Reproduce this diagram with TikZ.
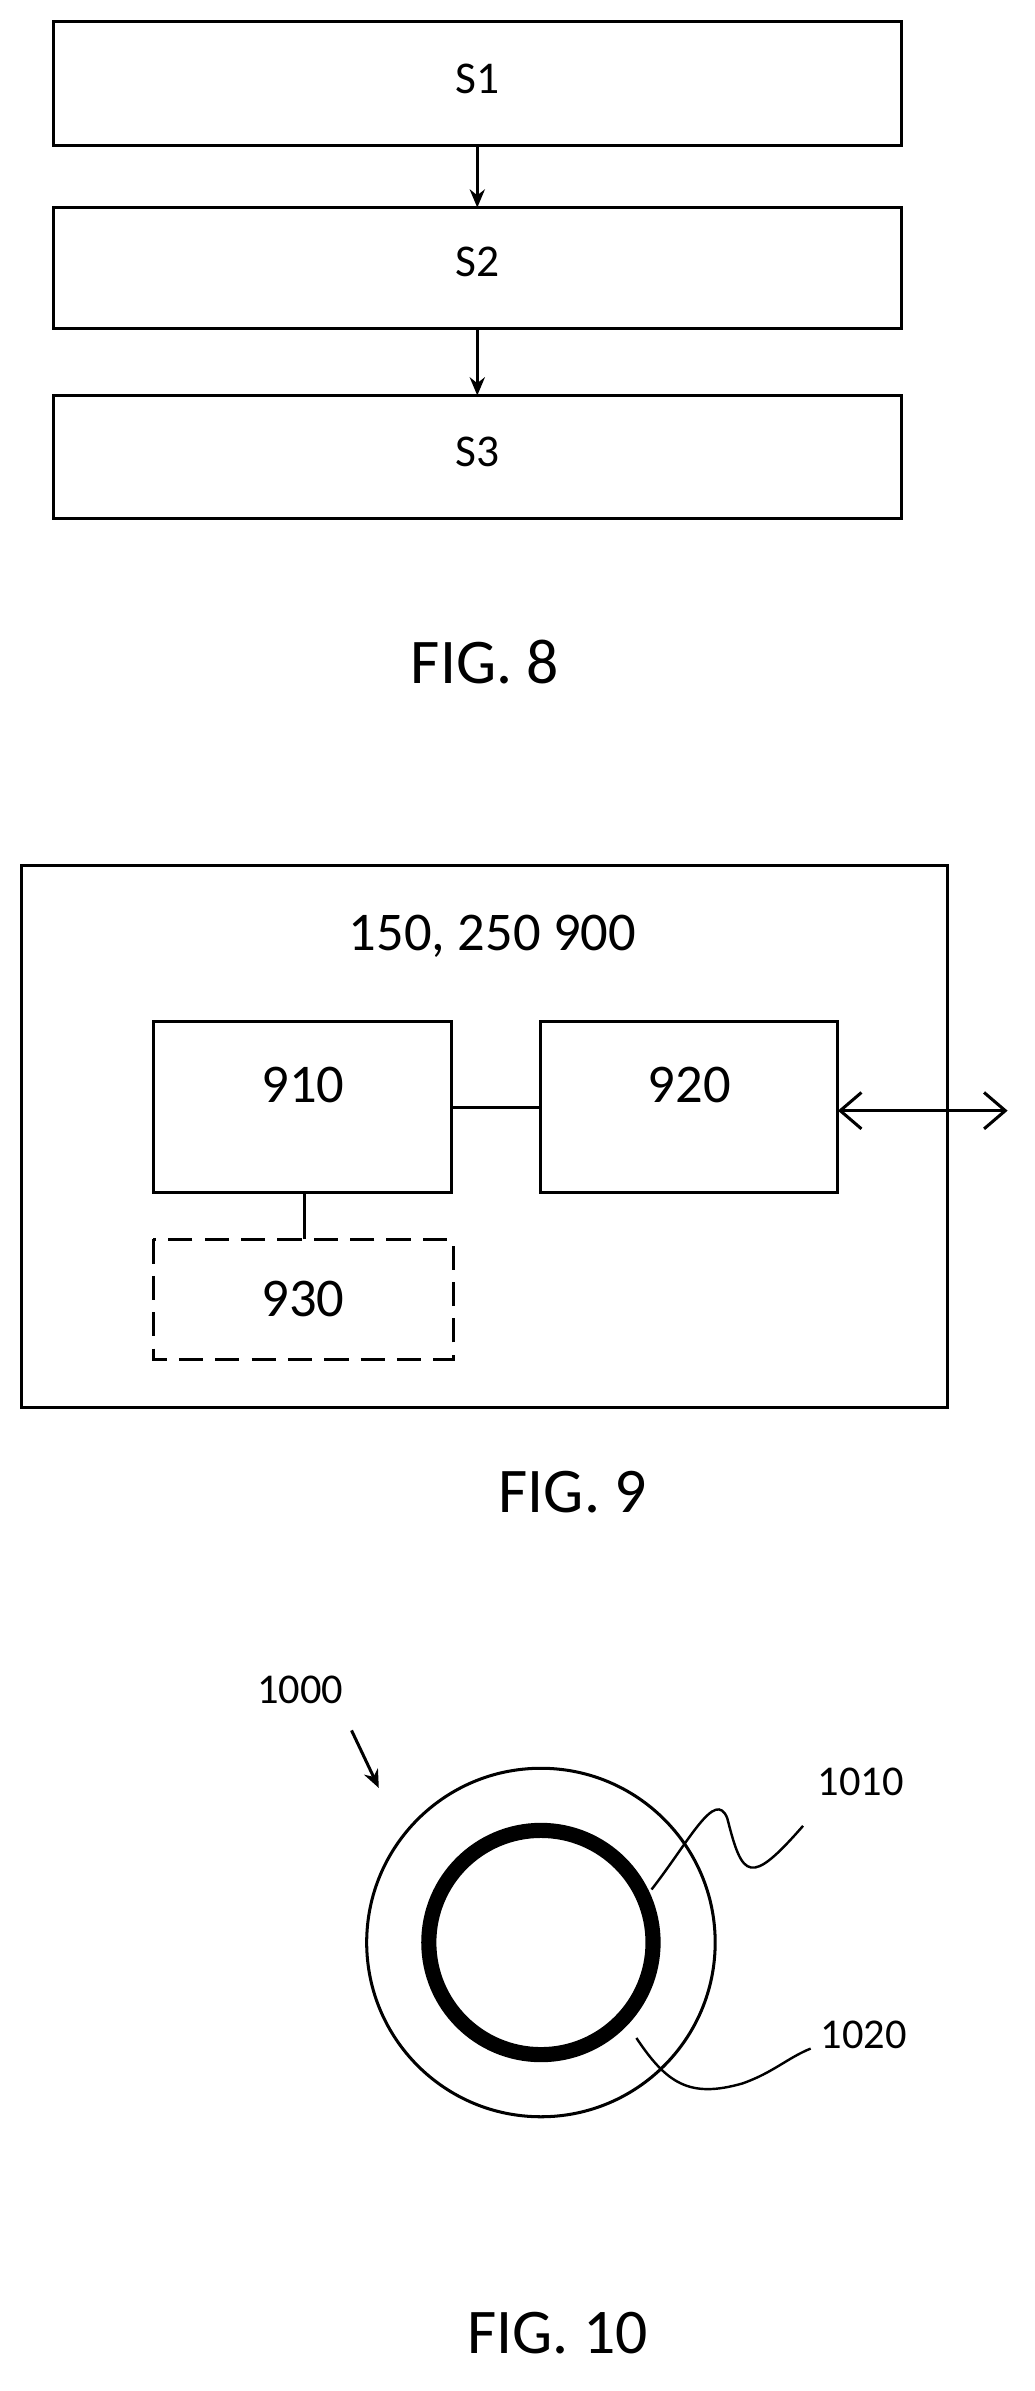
\documentclass[tikz,border=0pt]{standalone}
\usepackage{fontspec}
\setmainfont{Carlito}
\usetikzlibrary{arrows.meta}
\begin{document}
\begin{tikzpicture}[x=0.5pt,y=-0.5pt,
  box/.style={draw,line width=1pt,inner sep=0pt},
  lab/.style={font=\fontsize{15}{17}\selectfont},
  big/.style={font=\fontsize{18}{21}\selectfont},
  figcap/.style={font=\fontsize{21}{25}\selectfont},
  small/.style={font=\fontsize{14}{16}\selectfont},
  arr/.style={line width=1pt,-{Stealth[length=6pt,width=5pt]}}]
\useasboundingbox (0,0) rectangle (683,1578);
% FIG 8
\draw[box] (35,14) rectangle (595,96);
\draw[box] (35,137) rectangle (595,217);
\draw[box] (35,261) rectangle (595,342);
\node[lab] (s1) at (315,52) {S1};
\node[lab] (s2) at (315,173) {S2};
\node[lab] (s3) at (315,298) {S3};
\coordinate (a1) at (315,96); \coordinate (b1) at (315,137);
\coordinate (a2) at (315,217); \coordinate (b2) at (315,261);
\draw[arr] (a1) -- (b1);
\draw[arr] (a2) -- (b2);
\node[figcap] (f8) at (320,437) {FIG. 8};
% FIG 9
\draw[box] (14,571) rectangle (625,929);
\node[big] (t9) at (325,618) {150, 250 900};
\draw[box] (101,674) rectangle (298,787);
\draw[box] (357,674) rectangle (553,787);
\draw[box,dashed,dash pattern=on 8pt off 4pt] (101,818) rectangle (299,897);
\node[big] (n910) at (200,716) {910};
\node[big] (n920) at (455,716) {920};
\node[big] (n930) at (200,857) {930};
\coordinate (c1) at (298,731); \coordinate (c2) at (357,731);
\coordinate (d1) at (201,787); \coordinate (d2) at (201,818);
\coordinate (e1) at (553,733); \coordinate (e2) at (665,733);
\draw[line width=1pt] (c1) -- (c2);
\draw[line width=1pt] (d1) -- (d2);
\draw[line width=1pt,{Straight Barb[length=7pt,width=12pt]}-{Straight Barb[length=7pt,width=12pt]}] (e1) -- (e2);
\node[figcap] (f9) at (378,985) {FIG. 9};
% FIG 10
\coordinate (o) at (357,1282);
\draw[line width=1pt] (o) circle[radius=115];
\draw[line width=5pt] (o) circle[radius=74];
\node[small] (n1000) at (198,1115) {1000};
\coordinate (p1) at (232,1142); \coordinate (p2) at (250,1180);
\draw[arr] (p1) -- (p2);
\node[small] (n1010) at (568,1176) {1010};
\coordinate (q1) at (430,1247);
\draw[line width=0.8pt] (q1) .. controls (455,1215) and (472,1180) .. (480,1200) .. controls (490,1240) and (495,1245) .. (530,1205);
\node[small] (n1020) at (570,1343) {1020};
\coordinate (r1) at (420,1345);
\draw[line width=0.8pt] (r1) .. controls (440,1375) and (455,1385) .. (490,1375) .. controls (510,1368) and (520,1358) .. (535,1352);
\node[figcap] (f10) at (368,1540) {FIG. 10};
\end{tikzpicture}
\end{document}
